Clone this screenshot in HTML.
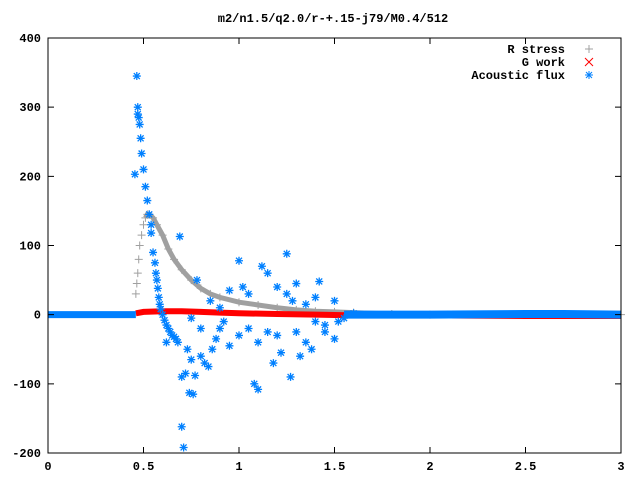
<!DOCTYPE html>
<html><head><meta charset="utf-8"><style>
body{margin:0;background:#fff}
svg text{font-family:"Liberation Mono",monospace;font-size:12px;font-weight:bold;fill:#000}
</style></head><body>
<svg id="c" width="640" height="480" xmlns="http://www.w3.org/2000/svg">
<rect width="640" height="480" fill="#fff"/>
<text x="333" y="22" text-anchor="middle">m2/n1.5/q2.0/r-+.15-j79/M0.4/512</text>
<g id="marks"></g>
<g id="axes"></g>
<g>
<text x="565" y="53" text-anchor="end">R stress</text>
<text x="565" y="66" text-anchor="end">G work</text>
<text x="565" y="79" text-anchor="end">Acoustic flux</text>
<path d="M585,49h8M589,45v8" stroke="#a0a0a0"/>
<path d="M585,58l8,8M593,58l-8,8" stroke="#ff0000"/>
<path d="M585,75h8M589,71v8M586,72l6,6M592,72l-6,6" stroke="#0080ff"/>
</g>
</svg>
<script>
const xTicks=[0,0.5,1,1.5,2,2.5,3];
const xTickLabels=["0","0.5","1","1.5","2","2.5","3"];
const yTicks=[-200,-100,0,100,200,300,400];
const yTickLabels=["-200","-100","0","100","200","300","400"];
const rX=[0.46,0.465,0.47,0.475,0.48,0.49,0.5,0.51,0.52,0.53,0.55,0.57,0.6,0.63,0.66,0.7,0.75,0.8,0.85,0.9,1.0,1.1,1.2,1.3,1.4,1.5,1.6,1.8,2.0,3.0];
const rY=[30,45,60,80,100,115,130,140,145,145,140,130,115,95,80,65,50,38,30,25,18,14,10,7,5,4,3,1,0,0];
const gX=[0.46,0.5,0.6,0.7,0.8,0.9,1.0,1.2,1.4,1.6,1.8,2.0,2.5,3.0];
const gY=[2,4,5,5,4,3,2,1,0,-1,-1,-1,-2,-2];
const aLeftX=[0,0.46];
const aLeftY=[0,0];
const aRightX=[1.55,1.8,2,2.5,2.7,3];
const aRightY=[0,0,0,1,1,0];
const aX=[0.455,0.465,0.47,0.47,0.475,0.48,0.485,0.49,0.5,0.51,0.52,0.53,0.54,0.54,0.55,0.56,0.565,0.57,0.575,0.58,0.585,0.59,0.6,0.61,0.62,0.63,0.64,0.65,0.66,0.67,0.68,0.7,0.7,0.71,0.72,0.69,0.74,0.76,0.77,0.73,0.75,0.78,0.8,0.82,0.84,0.86,0.88,0.9,0.92,0.95,1.0,1.02,1.05,1.08,1.1,1.12,1.15,1.2,1.22,1.25,1.27,1.3,1.32,1.35,1.4,1.42,1.45,1.5,1.52,1.55,1.6,0.62,0.85,0.95,1.05,1.15,1.25,1.35,1.45,0.9,1.0,1.1,1.3,1.4,1.5,0.8,0.75,1.2,1.28,1.38,1.18];
const aY=[203,345,300,290,285,275,255,233,210,185,165,145,130,118,90,75,60,50,38,25,15,8,0,-8,-15,-20,-25,-30,-32,-35,-40,-90,-162,-192,-85,113,-113,-115,-88,-50,-65,50,-60,-70,-75,-50,-35,-20,-10,-45,78,40,30,-100,-108,70,60,-30,-55,88,-90,45,-60,-40,25,48,-25,20,-10,-5,2,-40,20,35,-20,-25,30,15,-15,10,-30,-40,-25,-10,-35,-20,-5,40,20,-50,-70];
const X0=48,X1=621,Y0=453,Y1=38;
const sx=v=>X0+(v-0)/3*(X1-X0);
const sy=v=>Y0-(v+200)/600*(Y0-Y1);
const NS="http://www.w3.org/2000/svg";
const marks=document.getElementById('marks'),axes=document.getElementById('axes');
function mk(t,a,p){const e=document.createElementNS(NS,t);for(const k in a)e.setAttribute(k,a[k]);p.appendChild(e);return e;}
function poly(xs,ys,col,w){return mk('polyline',{points:xs.map((x,i)=>sx(x)+','+sy(ys[i])).join(' '),fill:'none',stroke:col,'stroke-width':w},marks);}
let p=poly(rX.slice(7),rY.slice(7),'#a0a0a0',5);


rX.forEach((x,i)=>{const e=mk('path',{d:`M${sx(x)-4},${sy(rY[i])}h8M${sx(x)},${sy(rY[i])-4}v8`,stroke:'#a0a0a0'},marks);

});
p=poly(gX,gY,'#ff0000',6);


p=poly(aLeftX,aLeftY,'#0080ff',7);


p=poly(aRightX,aRightY,'#0080ff',8);


aX.forEach((x,i)=>{const cx=sx(x),cy=sy(aY[i]);const e=mk('path',{d:`M${cx-4},${cy}h8M${cx},${cy-4}v8M${cx-3},${cy-3}l6,6M${cx+3},${cy-3}l-6,6`,stroke:'#0080ff','stroke-width':1.3},marks);

});
const fr=mk('rect',{x:X0,y:Y1,width:X1-X0,height:Y0-Y1,fill:'none',stroke:'#000'},axes);


xTicks.forEach((t,i)=>{const x=sx(t);mk('path',{d:`M${x},${Y0}v-6M${x},${Y1}v6`,stroke:'#000'},axes);
const e=mk('text',{x:x,y:Y0+17,'text-anchor':'middle'},axes);e.textContent=xTickLabels[i];

});
yTicks.forEach((t,i)=>{const y=sy(t);mk('path',{d:`M${X0},${y}h6M${X1},${y}h-6`,stroke:'#000'},axes);
const e=mk('text',{x:X0-7,y:y+4,'text-anchor':'end'},axes);e.textContent=yTickLabels[i];

});
</script>
</body></html>
